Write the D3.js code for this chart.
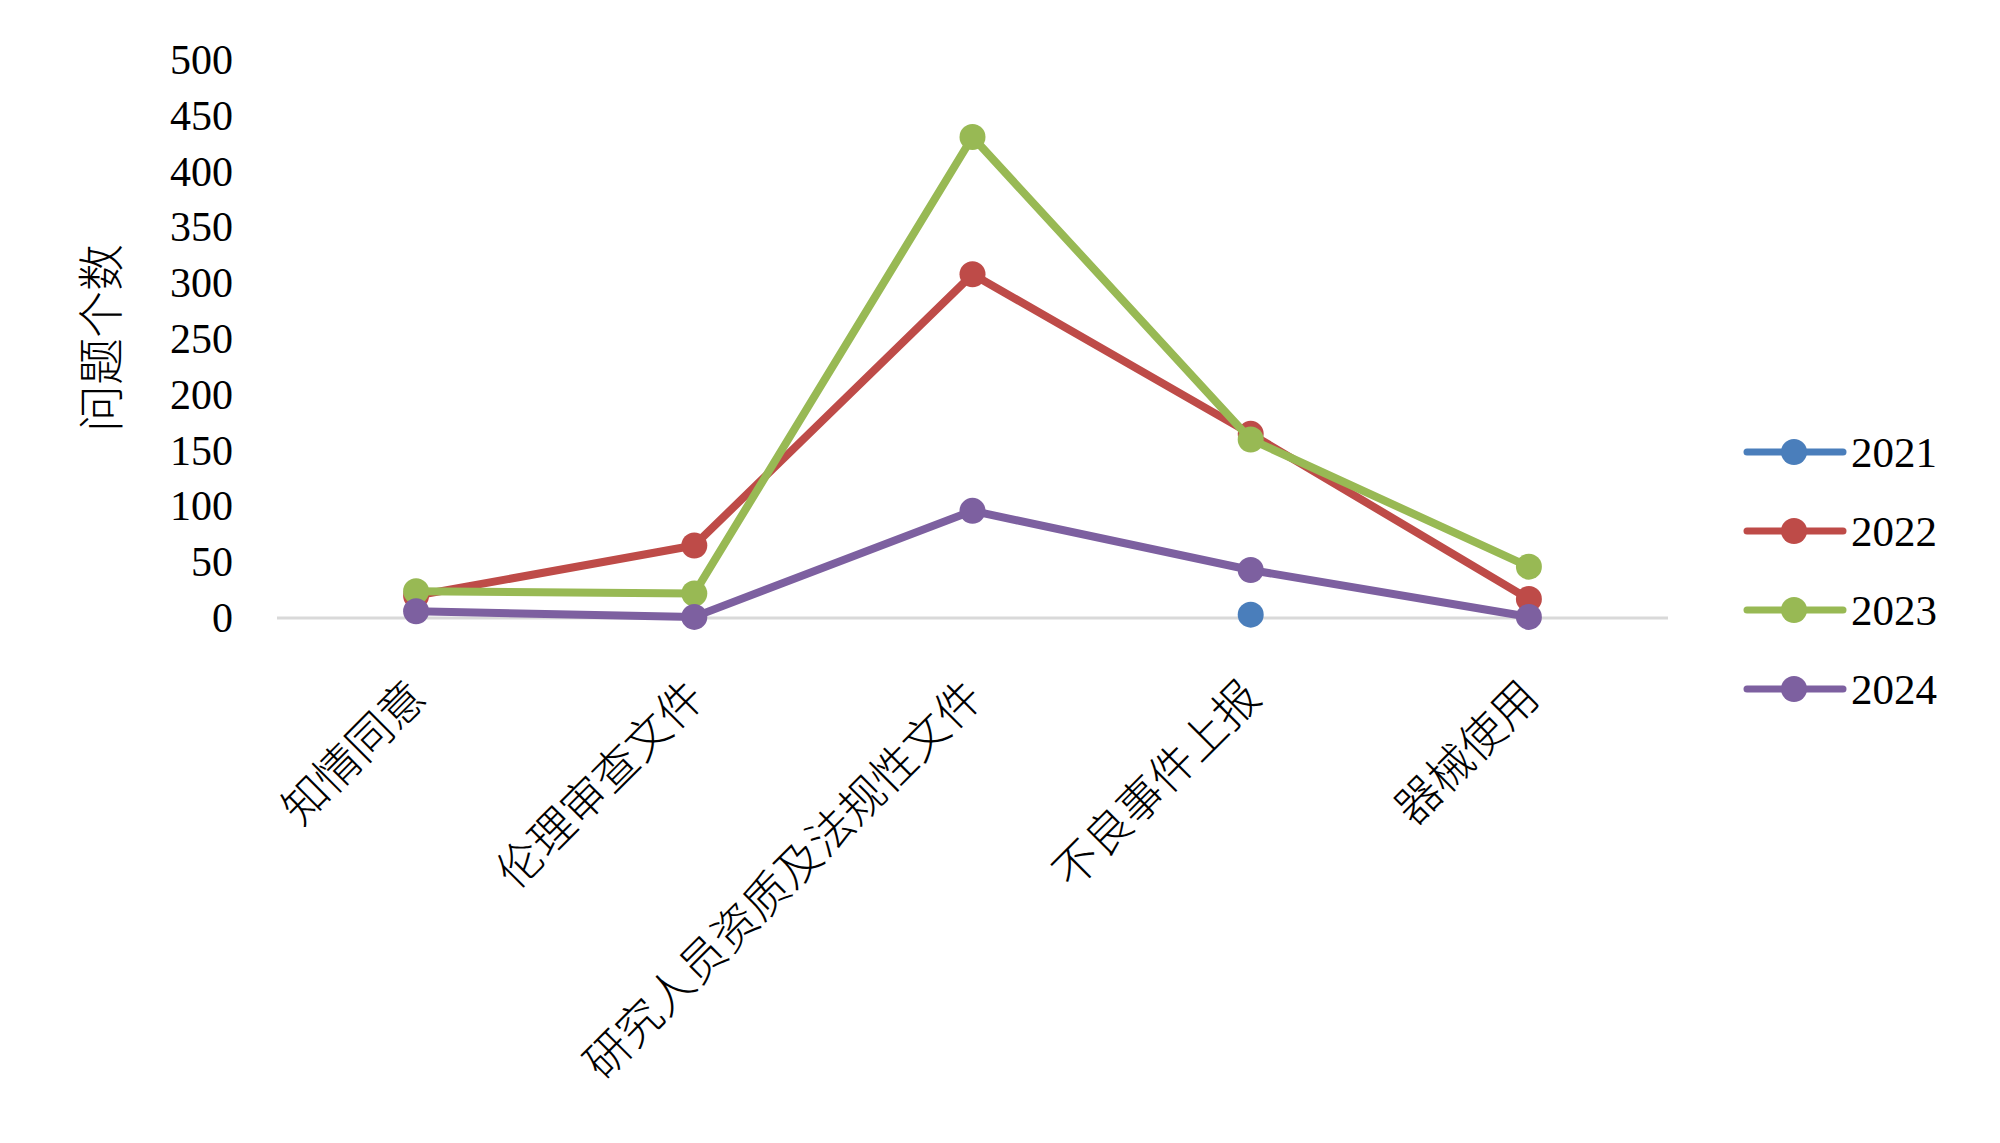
<!DOCTYPE html>
<html>
<head>
<meta charset="utf-8">
<script src="https://cdn.jsdelivr.net/npm/d3@7"></script>
<style>
  body { margin: 0; background: #fff; }
  svg text { fill: #000; }
</style>
</head>
<body>
<div id="graph"></div>
<script>
var categories = ["知情同意", "伦理审查文件", "研究人员资质及法规性文件", "不良事件上报", "器械使用"];
var years = ["2021", "2022", "2023", "2024"];
var values2021 = [null, null, null, 3, null];
var values2022 = [20, 65, 308, 165, 17];
var values2023 = [24, 22, 431, 160, 46];
var values2024 = [6, 1, 96, 43, 1];
var yTicks = [0, 50, 100, 150, 200, 250, 300, 350, 400, 450, 500];
var colors = ["#4a7ebb", "#be4b48", "#98b954", "#7d60a0"];

var seriesValues = [values2021, values2022, values2023, values2024];

var width = 2000, height = 1143;

var svg = d3.select("#graph")
  .append("svg")
    .attr("width", width)
    .attr("height", height);

var x = d3.scalePoint()
    .domain(categories)
    .range([277, 1668])
    .padding(0.5);

var y = d3.scaleLinear()
    .domain([0, 500])
    .range([618, 60]);

var numFont = "'Liberation Serif', 'Times New Roman', serif";
var cjkFont = "'Noto Sans CJK SC', sans-serif";

// baseline
svg.append("line")
    .attr("x1", 277).attr("x2", 1668)
    .attr("y1", y(0)).attr("y2", y(0))
    .attr("stroke", "#d9d9d9")
    .attr("stroke-width", 3);

// y axis labels, no line / ticks
var yAxis = svg.append("g")
    .attr("transform", "translate(233,0)")
    .call(d3.axisLeft(y).tickValues(yTicks).tickSize(0).tickPadding(0));
yAxis.select(".domain").remove();
yAxis.selectAll("text")
    .style("font-family", numFont)
    .style("font-size", "42px")
    .attr("fill", "#000");

// x axis labels, rotated
var xAxis = svg.append("g")
    .attr("transform", "translate(0," + y(0) + ")")
    .call(d3.axisBottom(x).tickSize(0));
xAxis.select(".domain").remove();
xAxis.selectAll("text")
    .style("font-family", cjkFont)
    .style("font-size", "45px")
    .style("font-weight", "300")
    .attr("fill", "#000")
    .attr("text-anchor", "end")
    .attr("dy", null)
    .attr("y", 0)
    .attr("transform", "translate(12,82) rotate(-45)");

// y axis title
svg.append("text")
    .attr("transform", "translate(118,338) rotate(-90)")
    .attr("text-anchor", "middle")
    .style("font-family", cjkFont)
    .style("font-size", "47px")
    .style("font-weight", "300")
    .text("问题个数");

// series
var line = d3.line()
    .defined(function(d) { return d != null; })
    .x(function(d, i) { return x(categories[i]); })
    .y(function(d) { return y(d); });

seriesValues.forEach(function(vals, s) {
  var g = svg.append("g");
  g.append("path")
      .datum(vals)
      .attr("fill", "none")
      .attr("stroke", colors[s])
      .attr("stroke-width", 8)
      .attr("stroke-linejoin", "round")
      .attr("d", line);
  g.selectAll("circle")
      .data(vals.map(function(v, i) { return {v: v, c: categories[i]}; })
                .filter(function(d) { return d.v != null; }))
      .enter().append("circle")
      .attr("cx", function(d) { return x(d.c); })
      .attr("cy", function(d) { return y(d.v); })
      .attr("r", 13)
      .attr("fill", colors[s]);
});

// legend
var legend = svg.append("g");
years.forEach(function(yr, i) {
  var ly = 452 + i * 79;
  legend.append("line")
      .attr("x1", 1747).attr("x2", 1843)
      .attr("y1", ly).attr("y2", ly)
      .attr("stroke", colors[i])
      .attr("stroke-width", 7)
      .attr("stroke-linecap", "round");
  legend.append("circle")
      .attr("cx", 1794).attr("cy", ly)
      .attr("r", 13)
      .attr("fill", colors[i]);
  legend.append("text")
      .attr("x", 1851).attr("y", ly)
      .attr("dy", "0.35em")
      .style("font-family", numFont)
      .style("font-size", "43px")
      .text(yr);
});
</script>
</body>
</html>
